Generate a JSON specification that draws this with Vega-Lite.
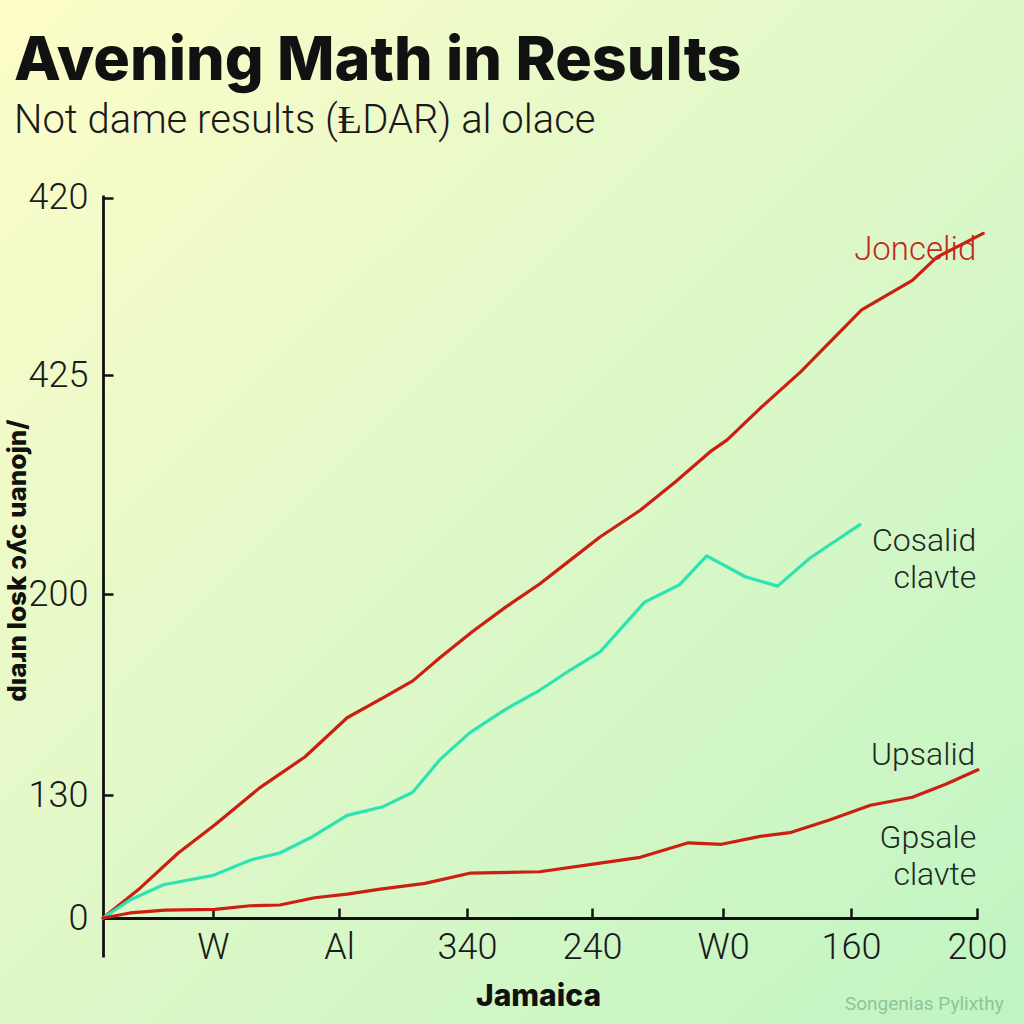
{
  "$schema": "https://vega.github.io/schema/vega-lite/v6.json",
  "width": 1024,
  "height": 1024,
  "autosize": {"type": "none"},
  "padding": 0,
  "background": "#e4f8cc",
  "view": {
    "stroke": null,
    "fill": {
      "gradient": "linear", "x1": 0, "y1": 0, "x2": 1, "y2": 1,
      "stops": [
        {"offset": 0, "color": "#fdfdc8"},
        {"offset": 0.45, "color": "#e2f8c8"},
        {"offset": 1, "color": "#bff5c3"}
      ]
    }
  },
  "title": {
    "text": "Avening Math in Results",
    "subtitle": "Not dame results (ⱠDAR) al olace",
    "anchor": "start",
    "frame": "group",
    "orient": "top",
    "offset": -142,
    "dx": 14,
    "font": "Inter",
    "fontSize": 61,
    "fontWeight": 800,
    "color": "#111111",
    "subtitleFont": "Roboto",
    "subtitleFontSize": 40,
    "subtitleFontWeight": 300,
    "subtitleColor": "#1a1a1a",
    "subtitlePadding": 8
  },
  "datasets": {
    "lines": [
      {"series": "Joncelid", "x": 0, "y": 0},
      {"series": "Joncelid", "x": 4.2, "y": 4.1},
      {"series": "Joncelid", "x": 8.6, "y": 9.0},
      {"series": "Joncelid", "x": 12.8, "y": 12.9},
      {"series": "Joncelid", "x": 17.9, "y": 18.0},
      {"series": "Joncelid", "x": 23.1, "y": 22.3},
      {"series": "Joncelid", "x": 27.9, "y": 27.7},
      {"series": "Joncelid", "x": 32.2, "y": 30.6},
      {"series": "Joncelid", "x": 35.4, "y": 32.8},
      {"series": "Joncelid", "x": 38.5, "y": 36.0},
      {"series": "Joncelid", "x": 42.2, "y": 39.6},
      {"series": "Joncelid", "x": 45.9, "y": 42.9},
      {"series": "Joncelid", "x": 49.9, "y": 46.2},
      {"series": "Joncelid", "x": 53.4, "y": 49.5},
      {"series": "Joncelid", "x": 56.8, "y": 52.7},
      {"series": "Joncelid", "x": 61.4, "y": 56.4},
      {"series": "Joncelid", "x": 65.4, "y": 60.3},
      {"series": "Joncelid", "x": 69.4, "y": 64.5},
      {"series": "Joncelid", "x": 71.3, "y": 66.1},
      {"series": "Joncelid", "x": 75.1, "y": 70.5},
      {"series": "Joncelid", "x": 79.7, "y": 75.5},
      {"series": "Joncelid", "x": 83.1, "y": 79.7},
      {"series": "Joncelid", "x": 86.7, "y": 84.1},
      {"series": "Joncelid", "x": 92.5, "y": 88.2},
      {"series": "Joncelid", "x": 95.3, "y": 91.4},
      {"series": "Joncelid", "x": 100.6, "y": 94.7},
      {"series": "Cosalid", "x": 0, "y": 0},
      {"series": "Cosalid", "x": 3.1, "y": 2.5},
      {"series": "Cosalid", "x": 6.9, "y": 4.6},
      {"series": "Cosalid", "x": 12.6, "y": 5.9},
      {"series": "Cosalid", "x": 16.8, "y": 8.0},
      {"series": "Cosalid", "x": 20.2, "y": 9.0},
      {"series": "Cosalid", "x": 23.7, "y": 11.1},
      {"series": "Cosalid", "x": 27.9, "y": 14.2},
      {"series": "Cosalid", "x": 32.0, "y": 15.4},
      {"series": "Cosalid", "x": 35.4, "y": 17.4},
      {"series": "Cosalid", "x": 38.5, "y": 21.9},
      {"series": "Cosalid", "x": 41.9, "y": 25.6},
      {"series": "Cosalid", "x": 45.9, "y": 28.8},
      {"series": "Cosalid", "x": 49.9, "y": 31.5},
      {"series": "Cosalid", "x": 53.4, "y": 34.3},
      {"series": "Cosalid", "x": 56.8, "y": 36.8},
      {"series": "Cosalid", "x": 61.9, "y": 43.7},
      {"series": "Cosalid", "x": 65.9, "y": 46.1},
      {"series": "Cosalid", "x": 69.0, "y": 50.1},
      {"series": "Cosalid", "x": 73.4, "y": 47.2},
      {"series": "Cosalid", "x": 77.1, "y": 45.9},
      {"series": "Cosalid", "x": 80.8, "y": 49.8},
      {"series": "Cosalid", "x": 86.5, "y": 54.4},
      {"series": "Upsalid", "x": 0, "y": 0},
      {"series": "Upsalid", "x": 3.1, "y": 0.7},
      {"series": "Upsalid", "x": 7.1, "y": 1.1},
      {"series": "Upsalid", "x": 12.8, "y": 1.2},
      {"series": "Upsalid", "x": 16.8, "y": 1.7},
      {"series": "Upsalid", "x": 20.2, "y": 1.8},
      {"series": "Upsalid", "x": 24.2, "y": 2.8},
      {"series": "Upsalid", "x": 27.9, "y": 3.3},
      {"series": "Upsalid", "x": 31.7, "y": 4.0},
      {"series": "Upsalid", "x": 36.8, "y": 4.8},
      {"series": "Upsalid", "x": 41.9, "y": 6.2},
      {"series": "Upsalid", "x": 49.9, "y": 6.4},
      {"series": "Upsalid", "x": 56.8, "y": 7.6},
      {"series": "Upsalid", "x": 61.4, "y": 8.4},
      {"series": "Upsalid", "x": 66.9, "y": 10.4},
      {"series": "Upsalid", "x": 70.7, "y": 10.2},
      {"series": "Upsalid", "x": 75.1, "y": 11.3},
      {"series": "Upsalid", "x": 78.5, "y": 11.8},
      {"series": "Upsalid", "x": 83.1, "y": 13.6},
      {"series": "Upsalid", "x": 87.7, "y": 15.6},
      {"series": "Upsalid", "x": 92.5, "y": 16.7},
      {"series": "Upsalid", "x": 96.3, "y": 18.5},
      {"series": "Upsalid", "x": 100.0, "y": 20.5}
    ],
    "redLabels": [
      {"label": "Joncelid", "x": 99.8, "y": 91.0}
    ],
    "darkLabels": [
      {"label": "Cosalid|clavte", "x": 99.8, "y": 50.8},
      {"label": "Upsalid", "x": 99.7, "y": 21.2},
      {"label": "Gpsale|clavte", "x": 99.8, "y": 9.7}
    ],
    "mark": [
      {"label": "Songenias Pylixthy", "x": 84.8, "y": -12.7}
    ]
  },
  "layer": [
    {
      "data": {"name": "lines"},
      "mark": {"type": "line", "strokeWidth": 3.2, "strokeCap": "round", "strokeJoin": "round", "clip": false},
      "encoding": {
        "x": {
          "field": "x", "type": "quantitative",
          "scale": {"domain": [0, 100], "range": [103, 978], "nice": false, "zero": false},
          "axis": {
            "orient": "bottom",
            "offset": -106,
            "title": "Jamaica",
            "titleFont": "Inter",
            "titleFontWeight": 800,
            "titleFontSize": 30,
            "titleColor": "#111111",
            "titleX": 538,
            "titleY": 87,
            "titleAnchor": "middle",
            "titleAlign": "center",
            "titleBaseline": "alphabetic",
            "values": [12.57, 26.97, 41.6, 55.89, 70.86, 85.49, 99.89],
            "labelExpr": "datum.value < 20 ? 'W' : datum.value < 35 ? 'Al' : datum.value < 50 ? '340' : datum.value < 63 ? '240' : datum.value < 78 ? 'W0' : datum.value < 92 ? '160' : '200'",
            "labelFont": "Roboto",
            "labelFontSize": 36,
            "labelFontWeight": 300,
            "labelColor": "#1a1a1a",
            "labelPadding": 22,
            "labelFlush": false,
            "labelOverlap": false,
            "tickSize": -10,
            "tickWidth": 2.5,
            "tickColor": "#111111",
            "domainColor": "#111111",
            "domainWidth": 2.8,
            "grid": false
          }
        },
        "y": {
          "field": "y", "type": "quantitative",
          "scale": {"domain": [-5.39, 100], "range": [957, 195], "nice": false, "zero": false},
          "axis": {
            "orient": "left",
            "offset": -103,
            "title": "dıaɹn losk ɔʎc uanojn/",
            "titleFont": "Inter",
            "titleFontWeight": 800,
            "titleFontSize": 26,
            "titleColor": "#111111",
            "titleAngle": 270,
            "titleX": -86,
            "titleY": 560,
            "titleAnchor": "middle",
            "titleAlign": "center",
            "titleBaseline": "middle",
            "values": [0, 17.0, 44.8, 75.1, 99.6],
            "labelExpr": "datum.value < 5 ? '0' : datum.value < 30 ? '130' : datum.value < 60 ? '200' : datum.value < 90 ? '425' : '420'",
            "labelFont": "Roboto",
            "labelFontSize": 36,
            "labelFontWeight": 300,
            "labelColor": "#1a1a1a",
            "labelPadding": 25,
            "labelFlush": false,
            "labelOverlap": false,
            "tickSize": -10,
            "tickWidth": 2.5,
            "tickColor": "#111111",
            "domainColor": "#111111",
            "domainWidth": 2.8,
            "grid": false
          }
        },
        "color": {
          "field": "series", "type": "nominal",
          "scale": {"domain": ["Joncelid", "Cosalid", "Upsalid"], "range": ["#cc1f12", "#2ee3b2", "#cc1f12"]},
          "legend": null
        }
      }
    },
    {
      "data": {"name": "redLabels"},
      "mark": {"type": "text", "align": "right", "baseline": "alphabetic", "font": "Roboto", "fontSize": 33, "fontWeight": 300, "color": "#c4281c", "clip": false},
      "encoding": {
        "x": {"field": "x", "type": "quantitative"},
        "y": {"field": "y", "type": "quantitative"},
        "text": {"field": "label", "type": "nominal"}
      }
    },
    {
      "data": {"name": "darkLabels"},
      "mark": {"type": "text", "align": "right", "baseline": "alphabetic", "font": "Roboto", "fontSize": 32, "fontWeight": 300, "color": "#1c2a1f", "lineBreak": "|", "lineHeight": 37, "clip": false},
      "encoding": {
        "x": {"field": "x", "type": "quantitative"},
        "y": {"field": "y", "type": "quantitative"},
        "text": {"field": "label", "type": "nominal"}
      }
    },
    {
      "data": {"name": "mark"},
      "mark": {"type": "text", "align": "left", "baseline": "alphabetic", "font": "Roboto", "fontSize": 19, "color": "#8fc49b", "clip": false},
      "encoding": {
        "x": {"field": "x", "type": "quantitative"},
        "y": {"field": "y", "type": "quantitative"},
        "text": {"field": "label", "type": "nominal"}
      }
    }
  ]
}
